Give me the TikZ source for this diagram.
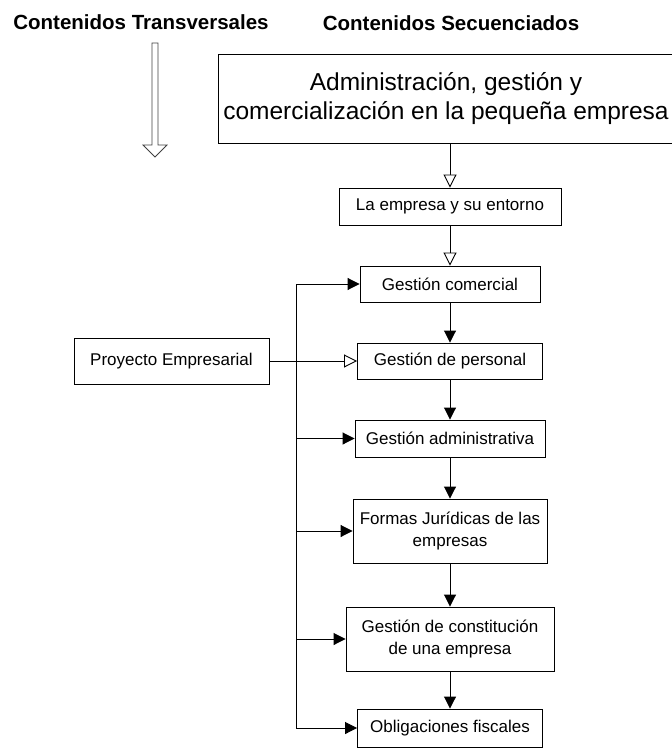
\documentclass[tikz,border=0pt]{standalone}
\usepackage{fontspec}
\setmainfont{Liberation Sans}
\usetikzlibrary{arrows.meta}

\begin{document}
\begin{tikzpicture}[x=1pt, y=-1pt, line width=0.9pt,
    box/.style={draw, align=center, inner sep=0pt, font=\fontsize{17}{22}\selectfont},
    title/.style={font=\fontsize{20.5}{24}\selectfont\bfseries},
    opentip/.style={-{Triangle[open, length=13pt, width=13pt, fill=white]}},
    filltip/.style={-{Triangle[length=12pt, width=12pt]}}]
	\useasboundingbox (0,0) rectangle (671,751);

	\node[title] (transv) at (141,22) {Contenidos Transversales};
	\node[title] (secuen) at (451,23) {Contenidos Secuenciados};

	\node[box, minimum width=456pt, minimum height=89pt, font=\fontsize{24.5}{29}\selectfont] (modulo) at (446,98.5) {Administración, gestión y\\comercialización en la pequeña empresa};
	\node[box, minimum width=222pt, minimum height=37pt] (empresa) at (450,206.5) {La empresa y su entorno};
	\node[box, minimum width=180pt, minimum height=36pt] (comercial) at (450,284) {Gestión comercial};
	\node[box, minimum width=185pt, minimum height=36pt] (personal) at (450,361) {Gestión de personal};
	\node[box, minimum width=190pt, minimum height=37pt] (administrativa) at (450,438.5) {Gestión administrativa};
	\node[box, minimum width=194pt, minimum height=64pt] (formas) at (450,531) {Formas Jurídicas de las\\empresas};
	\node[box, minimum width=208pt, minimum height=64pt] (constitucion) at (450,639) {Gestión de constitución\\de una empresa};
	\node[box, minimum width=185pt, minimum height=38pt] (obligaciones) at (450,728) {Obligaciones fiscales};
	\node[box, minimum width=195pt, minimum height=46pt] (proyecto) at (171.5,361) {Proyecto Empresarial};

	\draw[line width=0.8pt, black!75] (152,43) -- (158,43) -- (158,145) -- (167,145)
		-- (155,157) -- (143,145) -- (152,145) -- cycle;

	\path[opentip] (modulo.south -| empresa.north) edge (empresa.north)
		(empresa) edge (comercial)
		(proyecto) edge (personal);

	\path[filltip] (comercial) edge (personal)
		(personal) edge (administrativa)
		(administrativa) edge (formas)
		(formas) edge (constitucion)
		(constitucion) edge (obligaciones);

	\coordinate (bus) at (296,0);
	\draw (bus |- comercial.west) -- (bus |- obligaciones.west);
	\foreach \n in {comercial, administrativa, formas, constitucion, obligaciones}
		\draw[filltip] (bus |- \n.west) -- (\n.west);
\end{tikzpicture}
\end{document}
